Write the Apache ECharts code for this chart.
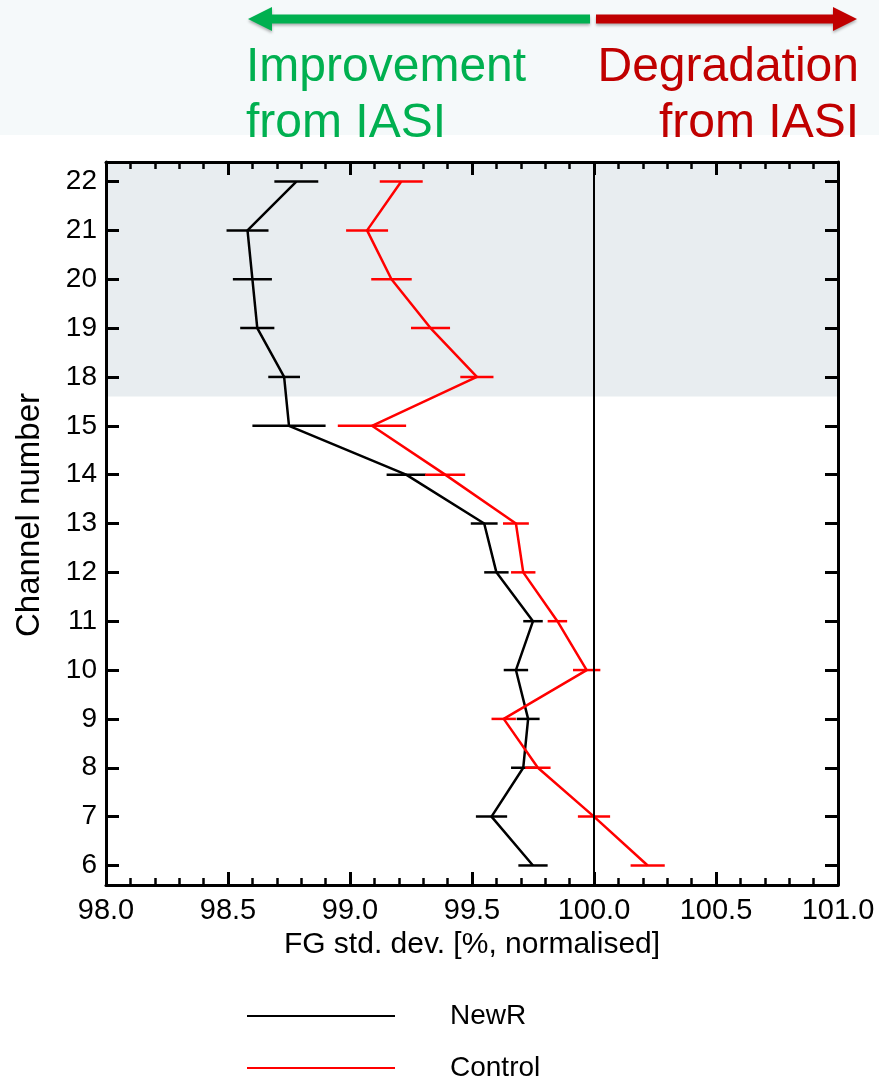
<!DOCTYPE html>
<html>
<head>
<meta charset="utf-8">
<script src="https://cdn.jsdelivr.net/npm/echarts@6/dist/echarts.min.js"></script>
<style>
html,body{margin:0;padding:0;background:#fff;}
#chart{width:879px;height:1081px;}
</style>
</head>
<body>
<div id="chart"></div>
<script>
// Channels, bottom to top
const channels = ['6','7','8','9','10','11','12','13','14','15','18','19','20','21','22'];
const newR     = [99.75, 99.58, 99.71, 99.73, 99.68, 99.75, 99.60, 99.55, 99.23, 98.75, 98.73, 98.62, 98.60, 98.58, 98.78];
const newRErr  = [0.060, 0.064, 0.050, 0.047, 0.050, 0.040, 0.050, 0.055, 0.080, 0.150, 0.065, 0.070, 0.080, 0.086, 0.090];
const control  = [100.22, 100.00, 99.77, 99.63, 99.97, 99.85, 99.71, 99.68, 99.39, 99.09, 99.52, 99.33, 99.17, 99.07, 99.21];
const controlErr = [0.070, 0.066, 0.052, 0.050, 0.056, 0.040, 0.050, 0.053, 0.082, 0.140, 0.068, 0.080, 0.083, 0.086, 0.088];
const xTicks = [98.0, 98.5, 99.0, 99.5, 100.0, 100.5, 101.0];
const refValue = 100.0;
const shadedFrom = 9.6; // between channel 15 and 18

const FONT = '"Liberation Sans", Arial, Helvetica, sans-serif';
const idx = channels.map((c, i) => i);

function lineData(vals){ return vals.map((v, i) => [v, i]); }
function errData(vals, errs){ return vals.map((v, i) => [v, errs[i], i]); }
function errRender(color){
  return function(params, api){
    const x = api.value(0), e = api.value(1), y = api.value(2);
    const p1 = api.coord([x - e, y]);
    const p2 = api.coord([x + e, y]);
    return { type:'line', shape:{x1:p1[0], y1:p1[1], x2:p2[0], y2:p2[1]},
             style:{stroke: color, lineWidth: 2.5} };
  };
}

const chart = echarts.init(document.getElementById('chart'), null, {renderer:'canvas'});

const xCommon = {
  type:'value', min:98, max:101, interval:0.5,
  axisLine:{show:true, onZero:false, lineStyle:{color:'#000', width:3}},
  axisTick:{show:true, inside:true, length:13, lineStyle:{color:'#000', width:3}},
  minorTick:{show:true, splitNumber:5, length:7, lineStyle:{color:'#000', width:2.5}},
  splitLine:{show:false}, minorSplitLine:{show:false}, z:5
};
const yCommon = {
  type:'value', min:-0.4, max:14.4,
  axisLine:{show:true, onZero:false, lineStyle:{color:'#000', width:3}},
  axisTick:{show:true, inside:true, length:13, customValues: idx, lineStyle:{color:'#000', width:3}},
  splitLine:{show:false}, z:5
};
const legendCommon = {
  orient:'vertical', left:247, padding:0,
  icon:'rect', itemWidth:148, itemHeight:2,
  textStyle:{fontSize:28, color:'#000', fontFamily:FONT, padding:[0,0,0,50], lineHeight:28},
  selectedMode:false
};

const option = {
  animation:false,
  backgroundColor:'#fff',
  textStyle:{fontFamily: FONT},
  graphic:[
    {type:'rect', left:0, top:0, z:-10, shape:{width:879, height:135}, style:{fill:'#f5f9fa'}},
    {type:'polygon', z:10, shape:{points:[[590,14.5],[272,14.5],[272,7],[248,19],[272,31],[272,23.5],[590,23.5]]},
      style:{fill:'#00b050', shadowBlur:3, shadowOffsetY:2, shadowColor:'rgba(0,0,0,0.3)'}},
    {type:'polygon', z:10, shape:{points:[[596,14.5],[833,14.5],[833,7],[857,19],[833,31],[833,23.5],[596,23.5]]},
      style:{fill:'#c00000', shadowBlur:3, shadowOffsetY:2, shadowColor:'rgba(0,0,0,0.3)'}},
    {type:'text', z:10, style:{x:246, y:68, text:'Improvement', fill:'#00b050', font:'48px '+FONT, align:'left', verticalAlign:'middle'}},
    {type:'text', z:10, style:{x:246, y:124, text:'from IASI', fill:'#00b050', font:'48px '+FONT, align:'left', verticalAlign:'middle'}},
    {type:'text', z:10, style:{x:859, y:68, text:'Degradation', fill:'#c00000', font:'48px '+FONT, align:'right', verticalAlign:'middle'}},
    {type:'text', z:10, style:{x:859, y:124, text:'from IASI', fill:'#c00000', font:'48px '+FONT, align:'right', verticalAlign:'middle'}}
  ],
  grid:{left:106, right:41, top:162, bottom:196, containLabel:false},
  legend:[
    Object.assign({}, legendCommon, {data:['NewR'], top:1002}),
    Object.assign({}, legendCommon, {data:['Control'], top:1054})
  ],
  xAxis:[
    Object.assign({}, xCommon, {
      position:'bottom',
      name:'FG std. dev. [%, normalised]', nameLocation:'middle', nameGap:43,
      nameTextStyle:{fontSize:30, color:'#000', fontFamily:FONT},
      axisLabel:{show:true, fontSize:29, color:'#000', margin:11, fontFamily:FONT,
        formatter: v => v.toFixed(1)}
    }),
    Object.assign({}, xCommon, {position:'top', axisLabel:{show:false}})
  ],
  yAxis:[
    Object.assign({}, yCommon, {
      position:'left',
      name:'Channel number', nameLocation:'middle', nameGap:60, nameRotate:90,
      nameTextStyle:{fontSize:33, color:'#000', fontFamily:FONT, padding:[0,0,0,17]},
      axisLabel:{show:true, fontSize:28, color:'#000', margin:9, fontFamily:FONT,
        customValues: idx, formatter: v => channels[Math.round(v)]}
    }),
    Object.assign({}, yCommon, {position:'right', axisLabel:{show:false}})
  ],
  series:[
    {
      name:'shade', type:'line', data:[], z:1, silent:true,
      markArea:{silent:true, itemStyle:{color:'#e8edf0'},
        data:[[{yAxis:shadedFrom},{yAxis:14.4}]]},
      markLine:{silent:true, symbol:'none', label:{show:false},
        lineStyle:{color:'#000', width:2, type:'solid'},
        data:[{xAxis:refValue}]}
    },
    {
      name:'NewR', type:'line', data: lineData(newR), symbol:'none', z:3,
      lineStyle:{color:'#000', width:2.5}, itemStyle:{color:'#000'}
    },
    {
      name:'Control', type:'line', data: lineData(control), symbol:'none', z:3,
      lineStyle:{color:'#ff0000', width:2.5}, itemStyle:{color:'#ff0000'}
    },
    {
      name:'NewR err', type:'custom', data: errData(newR, newRErr), z:3,
      encode:{x:0, y:2}, renderItem: errRender('#000')
    },
    {
      name:'Control err', type:'custom', data: errData(control, controlErr), z:3,
      encode:{x:0, y:2}, renderItem: errRender('#ff0000')
    }
  ]
};
chart.setOption(option);
</script>
</body>
</html>
